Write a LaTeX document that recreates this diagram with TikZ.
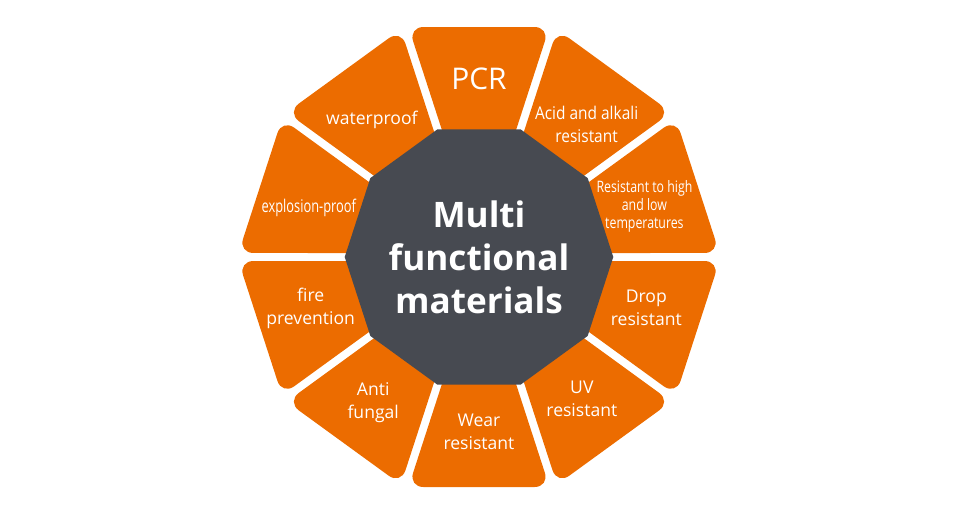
\documentclass[tikz,border=0pt]{standalone}
\usepackage{fontspec}
\setmainfont{Open Sans}
\usepackage{tikz}
\usetikzlibrary{shapes.geometric}

\definecolor{segorange}{RGB}{236,108,0}
\definecolor{hubgray}{RGB}{71,74,81}

\tikzset{
	segment/.style={fill=segorange, rounded corners=0.3cm},
	seglabel/.style={text=white, align=center, inner sep=0pt, font=\fontsize{10}{13}\selectfont},
	hub/.style={regular polygon, regular polygon sides=10, fill=hubgray, minimum size=5.15cm, inner sep=0pt, outer sep=0pt,
		text=white, align=center, font=\bfseries\fontsize{20}{24.5}\selectfont}
}

\begin{document}
\begin{tikzpicture}[x=0.02cm, y=0.02cm]
	\useasboundingbox (-479,-258) rectangle (479,257);
	
	% Segments round the hub
	\foreach \a in {90,54,...,-234} {
		\begin{scope}[rotate=\a-90]
			\fill[segment] (-28.3,100) -- (-70.5,230) -- (70.5,230) -- (28.3,100) -- cycle;
		\end{scope}
	}
	
	% Hub
	\node[hub] (hub) at (0,0) {Multi\\functional\\materials};
	
	% Labels
	\node[seglabel, font=\fontsize{17}{20}\selectfont] (pcr) at (90:178) {PCR};
	\node[seglabel, xscale=0.88] (acid) at (51:171) {Acid and alkali\\resistant};
	\node[seglabel, xscale=0.78, font=\fontsize{9}{10.5}\selectfont] (temp) at (17:173) {Resistant to high\\and low\\temperatures};
	\node[seglabel] (drop) at (-17:175) {Drop\\resistant};
	\node[seglabel] (uv) at (-54:175) {UV\\resistant};
	\node[seglabel] (wear) at (-90:175) {Wear\\resistant};
	\node[seglabel] (fungal) at (-126:180) {Anti\\fungal};
	\node[seglabel] (fire) at (-163:176) {fire\\prevention};
	\node[seglabel, xscale=0.73] (explosion) at (164:177) {explosion-proof};
	\node[seglabel] (waterproof) at (128:174) {waterproof};
\end{tikzpicture}
\end{document}
